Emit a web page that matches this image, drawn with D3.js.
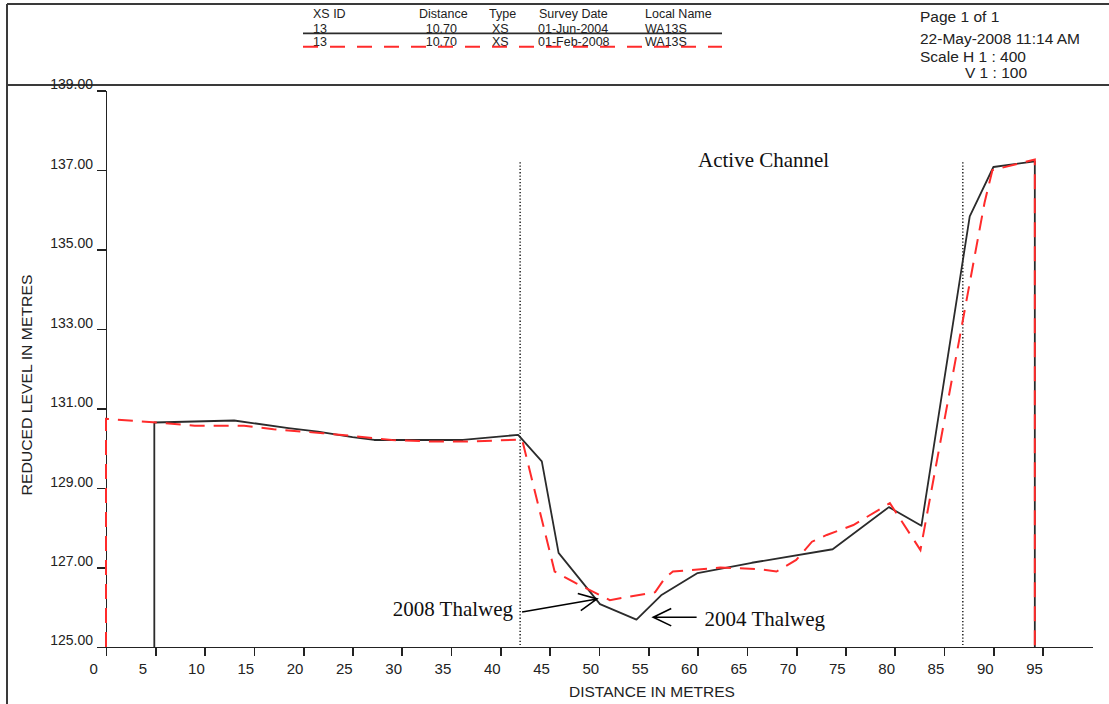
<!DOCTYPE html>
<meta charset="utf-8">
<style>

body {
  margin: 0;
  background: #fff;
}

svg {
  display: block;
}

.axis text {
  font: 14px "Liberation Sans", Arial, sans-serif;
  fill: #222;
}

.x.axis text {
  font-size: 15px;
}

.axis path,
.axis line {
  fill: none;
  stroke: #222;
  stroke-width: 1.6px;
  shape-rendering: crispEdges;
}

.frame {
  stroke: #3a3a3a;
  stroke-width: 2.5px;
  shape-rendering: crispEdges;
}

.hdr {
  font: 12.5px "Liberation Sans", Arial, sans-serif;
  fill: #222;
}

.info {
  font: 15.5px "Liberation Sans", Arial, sans-serif;
  fill: #222;
}

.title {
  font: 15.5px "Liberation Sans", Arial, sans-serif;
  fill: #222;
}

.note {
  font: 21px "Liberation Serif", "Times New Roman", serif;
  fill: #111;
}

.s2004 {
  fill: none;
  stroke: #2b2b2b;
  stroke-width: 1.8px;
  stroke-linejoin: round;
}

.s2008 {
  fill: none;
  stroke: #ff2b2b;
  stroke-width: 2px;
  stroke-dasharray: 15,9;
}

.bank {
  stroke: #000;
  stroke-width: 1.3px;
  stroke-dasharray: 1.3,2;
}

.arrow {
  fill: none;
  stroke: #000;
  stroke-width: 1.6px;
}

</style>
<body>
<svg width="1109" height="704"></svg>
<script src="https://d3js.org/d3.v7.min.js"></script>
<script>

// 01-Jun-2004 survey (solid black)
var dist2004  = [4.9, 4.9, 13.0, 18.5, 21.5, 25.0, 27.2, 36.2, 41.8, 44.2, 45.9, 50.1, 53.8, 56.3, 60.0, 65.5, 73.7, 79.4, 82.7, 87.6, 90.0, 94.2, 94.2];
var level2004 = [125.0, 130.65, 130.70, 130.51, 130.42, 130.28, 130.21, 130.21, 130.34, 129.67, 127.37, 126.08, 125.69, 126.30, 126.86, 127.12, 127.46, 128.52, 128.05, 135.84, 137.08, 137.22, 125.0];

// 01-Feb-2008 survey (red dashed)
var dist2008  = [0, 0, 4, 9, 14, 17, 22, 25, 29, 33, 37, 40, 42.2, 45.5, 47.7, 51.1, 55.7, 56.7, 57.5, 62.3, 66.3, 68.0, 70.0, 71.6, 73.1, 75.8, 79.5, 82.6, 89.1, 89.9, 94.2, 94.2];
var level2008 = [125.0, 130.74, 130.67, 130.57, 130.57, 130.48, 130.38, 130.31, 130.21, 130.17, 130.17, 130.20, 130.22, 126.90, 126.60, 126.18, 126.38, 126.74, 126.90, 127.00, 126.96, 126.90, 127.19, 127.65, 127.82, 128.07, 128.62, 127.44, 136.18, 137.00, 137.27, 125.0];

var xTicks = [0, 5, 10, 15, 20, 25, 30, 35, 40, 45, 50, 55, 60, 65, 70, 75, 80, 85, 90, 95];
var yTicks = [125, 127, 129, 131, 133, 135, 137, 139];

// active channel limits (distance) and how high the dotted lines reach
var channelBanks = [42.0, 86.9];
var channelTop = 137.2;

var legendHeads = ["XS ID", "Distance", "Type", "Survey Date", "Local Name"];
var legendRows = [
  ["13", "10.70", "XS", "01-Jun-2004", "WA13S"],
  ["13", "10.70", "XS", "01-Feb-2008", "WA13S"]
];

// thalweg call-outs: [tail, tip] in distance / level
var arrow2008 = [[42.2, 125.88], [49.8, 126.21]];
var arrow2004 = [[59.9, 125.75], [55.5, 125.75]];

var svg = d3.select("svg");

var x = d3.scaleLinear().domain([0, 100]).range([106, 1092]),
    y = d3.scaleLinear().domain([125, 139]).range([647, 90.7]);

// page frame
svg.append("line").attr("class", "frame")
    .attr("x1", 7).attr("x2", 1109).attr("y1", 4).attr("y2", 4);
svg.append("line").attr("class", "frame")
    .attr("x1", 7).attr("x2", 1109).attr("y1", 85).attr("y2", 85);
svg.append("line").attr("class", "frame")
    .attr("x1", 7).attr("x2", 7).attr("y1", 4).attr("y2", 704);

// header legend table
var headX = [313, 419, 489, 539, 645];
var rowX = [[313, "start"], [457, "end"], [492, "start"], [538, "start"], [645, "start"]];

svg.selectAll(".head")
  .data(legendHeads)
  .enter().append("text")
    .attr("class", "hdr head")
    .attr("x", function(d, i) { return headX[i]; })
    .attr("y", 18)
    .text(function(d) { return d; });

legendRows.forEach(function(row, r) {
  var by = r === 0 ? 33 : 46;
  svg.selectAll(".row" + r)
    .data(row)
    .enter().append("text")
      .attr("class", "hdr row" + r)
      .attr("x", function(d, i) { return rowX[i][0]; })
      .attr("y", by)
      .attr("text-anchor", function(d, i) { return rowX[i][1]; })
      .text(function(d) { return d; });
});

svg.append("line").attr("class", "s2004")
    .attr("x1", 303).attr("x2", 722).attr("y1", 33.3).attr("y2", 33.3);
svg.append("line").attr("class", "s2008")
    .attr("x1", 303).attr("x2", 722).attr("y1", 46.7).attr("y2", 46.7)
    .style("stroke-dasharray", "15,12");

// page info
svg.append("text").attr("class", "info").attr("x", 920).attr("y", 22).text("Page 1 of 1");
svg.append("text").attr("class", "info").attr("x", 920).attr("y", 44).text("22-May-2008 11:14 AM");
svg.append("text").attr("class", "info").attr("x", 920).attr("y", 62).text("Scale H 1 : 400");
svg.append("text").attr("class", "info").attr("x", 1027).attr("y", 78)
    .attr("text-anchor", "end").text("V 1 : 100");

// axes
svg.append("g")
    .attr("class", "x axis")
    .attr("transform", "translate(0," + y(125) + ")")
    .call(d3.axisBottom(x).tickValues(xTicks).tickSize(9).tickSizeOuter(0).tickFormat(d3.format("d")))
  .selectAll("text")
    .attr("text-anchor", "start")
    .attr("x", -17)
    .attr("y", 16);

svg.append("g")
    .attr("class", "y axis")
    .attr("transform", "translate(" + x(0) + ",0)")
    .call(d3.axisLeft(y).tickValues(yTicks).tickSize(9).tickPadding(4).tickSizeOuter(0).tickFormat(d3.format(".2f")))
  .selectAll("text")
    .attr("y", -6.5);

svg.append("text")
    .attr("class", "title")
    .attr("x", 652)
    .attr("y", 696.5)
    .attr("text-anchor", "middle")
    .text("DISTANCE IN METRES");

svg.append("text")
    .attr("class", "title")
    .attr("transform", "translate(31.5,385) rotate(-90)")
    .attr("text-anchor", "middle")
    .attr("textLength", 221)
    .attr("lengthAdjust", "spacingAndGlyphs")
    .text("REDUCED LEVEL IN METRES");

// active channel banks
svg.selectAll(".bank")
  .data(channelBanks)
  .enter().append("line")
    .attr("class", "bank")
    .attr("x1", function(d) { return x(d); })
    .attr("x2", function(d) { return x(d); })
    .attr("y1", y(channelTop))
    .attr("y2", y(125) - 2);

svg.append("text")
    .attr("class", "note")
    .attr("x", 698)
    .attr("y", 167)
    .text("Active Channel");

// survey lines
var line = d3.line()
    .x(function(d) { return x(d[0]); })
    .y(function(d) { return y(d[1]); });

svg.append("path")
    .datum(d3.zip(dist2004, level2004))
    .attr("class", "s2004")
    .attr("d", line);

svg.append("path")
    .datum(d3.zip(dist2008, level2008))
    .attr("class", "s2008")
    .attr("d", line);

// thalweg arrows
function drawArrow(a) {
  var x0 = x(a[0][0]), y0 = y(a[0][1]),
      x1 = x(a[1][0]), y1 = y(a[1][1]),
      ang = Math.atan2(y1 - y0, x1 - x0),
      len = 20, spread = 0.45;
  var p = "M" + x0 + "," + y0 + "L" + x1 + "," + y1 +
      "M" + (x1 - len * Math.cos(ang - spread)) + "," + (y1 - len * Math.sin(ang - spread)) +
      "L" + x1 + "," + y1 +
      "L" + (x1 - len * Math.cos(ang + spread)) + "," + (y1 - len * Math.sin(ang + spread));
  svg.append("path").attr("class", "arrow").attr("d", p);
}

drawArrow(arrow2008);
drawArrow(arrow2004);

svg.append("text")
    .attr("class", "note")
    .attr("x", x(arrow2008[0][0]) - 9)
    .attr("y", y(arrow2008[0][1]) + 4)
    .attr("text-anchor", "end")
    .text("2008 Thalweg");

svg.append("text")
    .attr("class", "note")
    .attr("x", x(arrow2004[0][0]) + 8)
    .attr("y", y(arrow2004[0][1]) + 9)
    .text("2004 Thalweg");

</script>
</body>
